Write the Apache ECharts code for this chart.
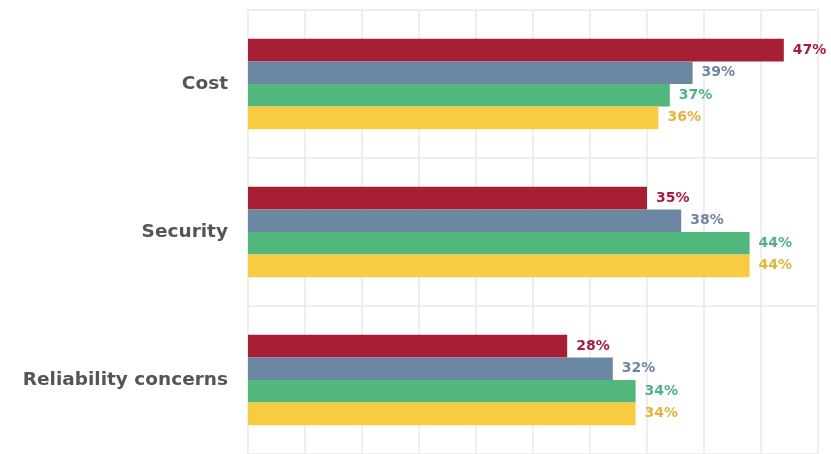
<!DOCTYPE html>
<html>
<head>
<meta charset="utf-8">
<script src="https://cdn.jsdelivr.net/npm/echarts@6/dist/echarts.min.js"></script>
<style>
  html, body { margin: 0; padding: 0; background: #fff; }
  #chart { width: 831px; height: 454px; }
</style>
</head>
<body>
<div id="chart"></div>
<script>
// categories (top to bottom)
const categories = ["Cost", "Security", "Reliability concerns"];
// series values, percent
const redValues = [47, 35, 28];
const blueValues = [39, 38, 32];
const greenValues = [37, 44, 34];
const yellowValues = [36, 44, 34];

const colors = ["#a61f35", "#6c87a1", "#52b77d", "#f8cb40"];
const labelColors = ["#a81d3d", "#6f86a3", "#4fb385", "#e2b43a"];
const seriesData = [redValues, blueValues, greenValues, yellowValues];

const chart = echarts.init(document.getElementById("chart"));

const series = seriesData.map((vals, i) => ({
  type: "bar",
  data: vals,
  barGap: "0%",
  barCategoryGap: "39%",
  itemStyle: { color: colors[i] },
  label: {
    show: true,
    position: "right",
    distance: 9,
    formatter: "{c}%",
    color: labelColors[i],
    fontFamily: "DejaVu Sans",
    fontWeight: "bold",
    fontSize: 14,
  },
}));

chart.setOption({
  animation: false,
  grid: { left: 248, right: 13, top: 10, bottom: -3 },
  xAxis: {
    type: "value",
    min: 0,
    max: 50,
    interval: 5,
    axisLabel: { show: false },
    axisLine: { show: false },
    axisTick: { show: false },
    splitLine: { show: true, lineStyle: { color: "#e6e9ee", width: 1.5 } },
  },
  yAxis: {
    type: "category",
    data: categories,
    inverse: true,
    axisLine: { show: false },
    axisTick: { show: false },
    axisLabel: {
      color: "#555555",
      fontFamily: "DejaVu Sans",
      fontWeight: "bold",
      fontSize: 18.5,
      margin: 20,
      padding: [4, 0, 0, 0],
    },
    splitLine: { show: true, lineStyle: { color: "#e6e9ee", width: 1.5 } },
  },
  series: series,
});
</script>
</body>
</html>
